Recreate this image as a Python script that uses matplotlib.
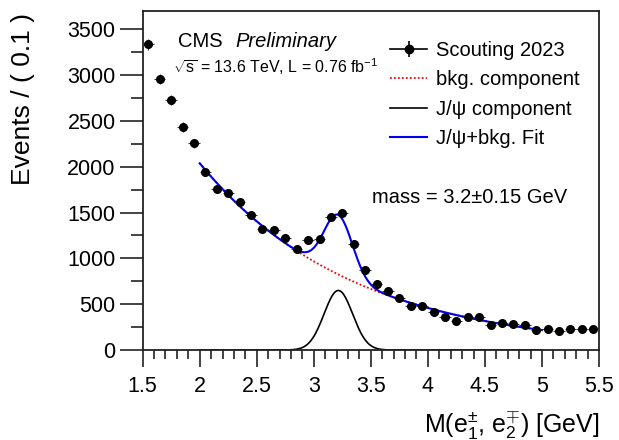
import numpy as np
import matplotlib
matplotlib.use("Agg")
import matplotlib.pyplot as plt
from matplotlib.lines import Line2D
from matplotlib.legend_handler import HandlerTuple

plt.rcParams['font.family'] = ['Liberation Sans', 'DejaVu Sans']
plt.rcParams['mathtext.fontset'] = 'custom'
plt.rcParams['mathtext.rm'] = 'Liberation Sans'
plt.rcParams['mathtext.it'] = 'Liberation Sans:italic'
plt.rcParams['mathtext.sf'] = 'Liberation Sans'

# ---- data (bin centres, counts) ----
mass_bins = [1.55, 1.65, 1.75, 1.85, 1.95, 2.05, 2.15, 2.25, 2.35, 2.45,
             2.55, 2.65, 2.75, 2.85, 2.95, 3.05, 3.15, 3.25, 3.35, 3.45,
             3.55, 3.65, 3.75, 3.85, 3.95, 4.05, 4.15, 4.25, 4.35, 4.45,
             4.55, 4.65, 4.75, 4.85, 4.95, 5.05, 5.15, 5.25, 5.35, 5.45]
counts = [3337, 2958, 2726, 2434, 2256, 1940, 1754, 1711, 1619, 1474,
          1318, 1310, 1226, 1103, 1201, 1215, 1455, 1490, 1156, 873,
          724, 644, 568, 484, 480, 411, 364, 317, 357, 357,
          270, 291, 281, 276, 218, 233, 211, 226, 226, 233]
bin_half_width = 0.05

# ---- fit parameters ----
fit_range = (2.0, 5.0)
bkg_norm = 2038.0      # background at x = 2.0
bkg_slope = 0.745      # exponential slope
sig_amp = 650.0
sig_mean = 3.215
sig_sigma = 0.125

xticks = [1.5, 2, 2.5, 3, 3.5, 4, 4.5, 5, 5.5]
xticklabels = ['1.5', '2', '2.5', '3', '3.5', '4', '4.5', '5', '5.5']
yticks = [0, 500, 1000, 1500, 2000, 2500, 3000, 3500]

fig = plt.figure(figsize=(6.19, 4.40), dpi=100)
ax = fig.add_axes([0.2305, 0.2045, 0.7372, 0.7705])

xf = np.linspace(fit_range[0], fit_range[1], 600)
bkg = bkg_norm * np.exp(-bkg_slope * (xf - fit_range[0]))
sig = sig_amp * np.exp(-0.5 * ((xf - sig_mean) / sig_sigma) ** 2)

ax.plot(xf, sig, color='black', lw=1.2, zorder=2)
ax.plot(xf, bkg, color='red', lw=1.3, ls=(0, (1, 1.2)), zorder=2)
ax.plot(xf, bkg + sig, color='#0000ee', lw=1.5, zorder=3)

cts = np.array(counts)
ax.errorbar(mass_bins, cts, xerr=bin_half_width, yerr=np.sqrt(cts),
            fmt='o', color='black', ms=5.5, ecolor='#333333', elinewidth=0.8,
            capsize=0, zorder=4)

ax.set_xlim(1.5, 5.5)
ax.set_ylim(0, 3700)
ax.set_xticks(xticks)
ax.set_xticklabels(xticklabels)
ax.set_yticks(yticks)
ax.set_xticks(np.arange(1.5, 5.51, 0.1), minor=True)
ax.set_yticks(np.arange(0, 3701, 250), minor=True)
ax.tick_params(axis='both', which='both', direction='out', labelsize=15.5,
               top=False, right=False, width=1.2, color='#222222')
ax.tick_params(axis='y', which='major', length=16.5, pad=3)
ax.tick_params(axis='y', which='minor', length=8.4)
ax.tick_params(axis='x', which='major', length=12, pad=7)
ax.tick_params(axis='x', which='minor', length=6.5)
for s in ax.spines.values():
    s.set_linewidth(1.3)
    s.set_color('#222222')

ax.set_ylabel('Events / ( 0.1 )', fontsize=19, loc='top')
ax.yaxis.set_label_coords(-0.236, 0.995)
ax.set_xlabel(r'M(e$_{1}^{\pm}$, e$_{2}^{\mp}$) [GeV]', fontsize=18, loc='right')
ax.xaxis.set_label_coords(1.0, -0.175)

ax.text(0.0774, 0.9086, 'CMS', transform=ax.transAxes, fontsize=14.5, va='center', ha='left')
ax.text(0.2027, 0.9086, 'Preliminary', transform=ax.transAxes, fontsize=14.5,
        style='italic', va='center', ha='left')
ax.text(0.067, 0.8357, r'$\sqrt{\mathrm{s}}$ = 13.6 TeV, L = 0.76 fb$^{-1}$', transform=ax.transAxes,
        fontsize=11.5, va='center', ha='left')
ax.text(0.5025, 0.451, 'mass = 3.2\u00b10.15 GeV', transform=ax.transAxes,
        fontsize=14.5, va='center', ha='left')

h_data = (Line2D([], [], color='black', lw=1.2),
          Line2D([], [], color='black', marker='o', ls='none', ms=6),
          Line2D([], [], color='black', marker='|', ls='none', ms=11, mew=1.2))
h_bkg = Line2D([], [], color='red', lw=1.3, ls=(0, (1, 1.2)))
h_sig = Line2D([], [], color='black', lw=1.2)
h_fit = Line2D([], [], color='#0000ee', lw=1.5)
ax.legend([h_data, h_bkg, h_sig, h_fit],
          ['Scouting 2023', 'bkg. component', 'J/\u03c8 component', 'J/\u03c8+bkg. Fit'],
          handler_map={tuple: HandlerTuple(ndivide=1)},
          loc='upper left', bbox_to_anchor=(0.542, 0.912), frameon=False,
          fontsize=14.5, handlelength=1.85, handletextpad=0.45, labelspacing=0.52,
          borderpad=0, borderaxespad=0)

fig.savefig('out.png', dpi=100)
